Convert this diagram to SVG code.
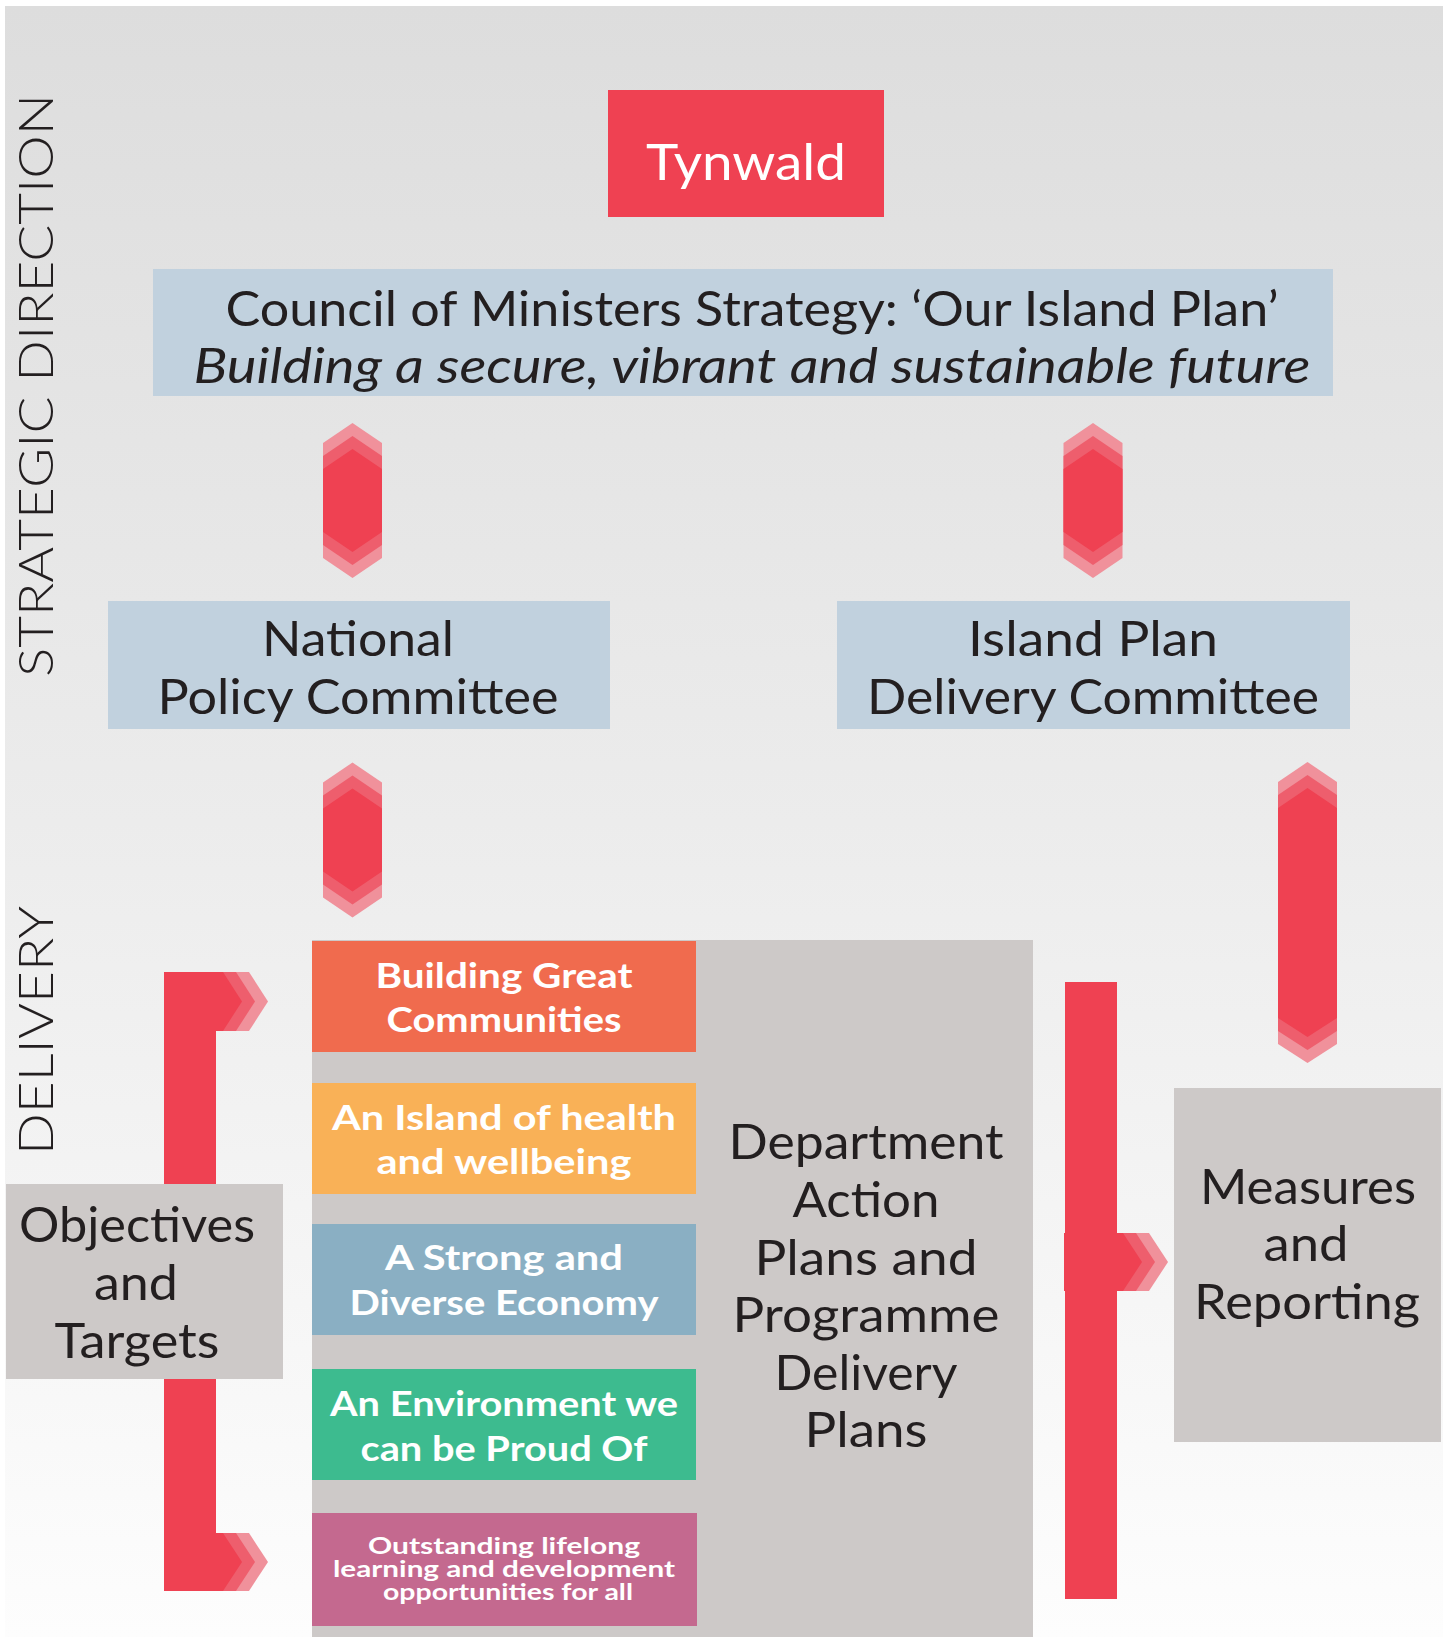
<svg xmlns="http://www.w3.org/2000/svg" width="1448" height="1637" viewBox="0 0 1448 1637">
  <defs>
    <linearGradient id="bg" x1="0" y1="0" x2="0" y2="1">
      <stop offset="0" stop-color="#dddddd"/>
      <stop offset="0.5" stop-color="#ececec"/>
      <stop offset="1" stop-color="#fdfdfd"/>
    </linearGradient>
    <!-- layered hexagon connector, centred at 0,0, half-height 77.5 -->
    <g id="hex">
      <polygon class="l1" points="-29.5,-57.5 0,-77.5 29.5,-57.5 29.5,57.5 0,77.5 -29.5,57.5"/>
      <polygon class="l2" points="-29.5,-44.5 0,-64.5 29.5,-44.5 29.5,44.5 0,64.5 -29.5,44.5"/>
      <polygon class="l3" points="-29.5,-31.5 0,-51.5 29.5,-31.5 29.5,31.5 0,51.5 -29.5,31.5"/>
    </g>
  </defs>
  <style>
    text { font-family: "Lato", "Open Sans", "Liberation Sans", sans-serif; }
    .l1 { fill: #f0919b; }
    .l2 { fill: #ee5e6d; }
    .l3 { fill: #ef4152; }
    .blue { fill: #c1d1de; }
    .grey { fill: #cdc9c8; }
    .big { font-size: 48px; fill: #231f20; text-anchor: middle; }
    .side { font-size: 47px; font-weight: 300; fill: #231f20; }
    .tag { font-size: 35px; font-weight: 700; fill: #ffffff; text-anchor: middle; }
    .small { font-size: 23px; font-weight: 700; fill: #ffffff; text-anchor: middle; }
  </style>

  <rect x="5" y="6" width="1438" height="1631" fill="url(#bg)"/>

  <!-- side labels -->
  <text class="side" transform="translate(53,677) rotate(-90)" textLength="583" lengthAdjust="spacingAndGlyphs">STRATEGIC DIRECTION</text>
  <text class="side" transform="translate(53,1155) rotate(-90)" textLength="249" lengthAdjust="spacingAndGlyphs">DELIVERY</text>

  <!-- connectors -->
  <g id="connectors">
    <use href="#hex" x="352.5" y="500.5"/>
    <use href="#hex" x="1093" y="500.5"/>
    <use href="#hex" x="352.5" y="840"/>

    <!-- tall connector to Measures and Reporting -->
    <polygon class="l1" points="1278,782 1307.5,762 1337,782 1337,1044 1307.5,1063 1278,1044"/>
    <polygon class="l2" points="1278,795 1307.5,775 1337,795 1337,1031 1307.5,1050 1278,1031"/>
    <polygon class="l3" points="1278,808 1307.5,788 1337,808 1337,1018 1307.5,1037 1278,1018"/>

    <!-- left bracket -->
    <rect class="l3" x="164" y="972" width="52" height="619"/>
    <polygon class="l1" points="164,972 249,972 268,1001.5 249,1031 164,1031"/>
    <polygon class="l2" points="164,972 236,972 255,1001.5 236,1031 164,1031"/>
    <polygon class="l3" points="164,972 223,972 242,1001.5 223,1031 164,1031"/>
    <polygon class="l1" points="164,1533 249,1533 268,1562 249,1591 164,1591"/>
    <polygon class="l2" points="164,1533 236,1533 255,1562 236,1591 164,1591"/>
    <polygon class="l3" points="164,1533 223,1533 242,1562 223,1591 164,1591"/>

    <!-- right bracket -->
    <rect class="l3" x="1065" y="982" width="52" height="617"/>
    <polygon class="l1" points="1064,1233 1149,1233 1168,1262 1149,1291 1064,1291"/>
    <polygon class="l2" points="1064,1233 1136,1233 1155,1262 1136,1291 1064,1291"/>
    <polygon class="l3" points="1064,1233 1123,1233 1142,1262 1123,1291 1064,1291"/>
  </g>

  <g id="tynwald">
    <rect x="608" y="90" width="276" height="127" fill="#ef4152"/>
    <text x="746" y="180" font-size="50" fill="#ffffff" text-anchor="middle" textLength="200" lengthAdjust="spacingAndGlyphs">Tynwald</text>
  </g>

  <g id="council">
    <rect class="blue" x="153" y="269" width="1180" height="127"/>
    <text class="big" x="752" y="326" textLength="1053" lengthAdjust="spacingAndGlyphs">Council of Ministers Strategy: ‘Our Island Plan’</text>
    <text class="big" x="752" y="383" font-style="italic" textLength="1117" lengthAdjust="spacingAndGlyphs">Building a secure, vibrant and sustainable future</text>
  </g>

  <g id="national-policy">
    <rect class="blue" x="108" y="601" width="502" height="128"/>
    <text class="big" x="358" y="656" textLength="192" lengthAdjust="spacingAndGlyphs">National</text>
    <text class="big" x="358" y="714" textLength="401" lengthAdjust="spacingAndGlyphs">Policy Committee</text>
  </g>

  <g id="delivery-committee">
    <rect class="blue" x="837" y="601" width="513" height="128"/>
    <text class="big" x="1093" y="656" textLength="250" lengthAdjust="spacingAndGlyphs">Island Plan</text>
    <text class="big" x="1093" y="714" textLength="452" lengthAdjust="spacingAndGlyphs">Delivery Committee</text>
  </g>

  <g id="department-plans">
    <rect class="grey" x="312" y="940" width="721" height="697"/>
    <text class="big" x="866" y="1159" textLength="275" lengthAdjust="spacingAndGlyphs">Department</text>
    <text class="big" x="866" y="1217" textLength="147" lengthAdjust="spacingAndGlyphs">Action</text>
    <text class="big" x="866" y="1275" textLength="223" lengthAdjust="spacingAndGlyphs">Plans and</text>
    <text class="big" x="866" y="1332" textLength="267" lengthAdjust="spacingAndGlyphs">Programme</text>
    <text class="big" x="866" y="1390" textLength="183" lengthAdjust="spacingAndGlyphs">Delivery</text>
    <text class="big" x="866" y="1447" textLength="123" lengthAdjust="spacingAndGlyphs">Plans</text>
  </g>

  <g id="communities">
    <rect x="312" y="941" width="384" height="111" fill="#f06b4e"/>
    <text class="tag" x="504" y="988" textLength="257" lengthAdjust="spacingAndGlyphs">Building Great</text>
    <text class="tag" x="504" y="1032" textLength="235" lengthAdjust="spacingAndGlyphs">Communities</text>
  </g>

  <g id="health">
    <rect x="312" y="1083" width="384" height="111" fill="#f9b157"/>
    <text class="tag" x="504" y="1130" textLength="344" lengthAdjust="spacingAndGlyphs">An Island of health</text>
    <text class="tag" x="504" y="1174" textLength="255" lengthAdjust="spacingAndGlyphs">and wellbeing</text>
  </g>

  <g id="economy">
    <rect x="312" y="1224" width="384" height="111" fill="#8aafc3"/>
    <text class="tag" x="504" y="1270" textLength="238" lengthAdjust="spacingAndGlyphs">A Strong and</text>
    <text class="tag" x="504" y="1315" textLength="309" lengthAdjust="spacingAndGlyphs">Diverse Economy</text>
  </g>

  <g id="environment">
    <rect x="312" y="1369" width="384" height="111" fill="#3dbb8f"/>
    <text class="tag" x="504" y="1416" textLength="348" lengthAdjust="spacingAndGlyphs">An Environment we</text>
    <text class="tag" x="504" y="1461" textLength="287" lengthAdjust="spacingAndGlyphs">can be Proud Of</text>
  </g>

  <g id="learning">
    <rect x="312" y="1513" width="385" height="113" fill="#c4698f"/>
    <text class="small" x="504" y="1554" textLength="272" lengthAdjust="spacingAndGlyphs">Outstanding lifelong</text>
    <text class="small" x="504" y="1577" textLength="342" lengthAdjust="spacingAndGlyphs">learning and development</text>
    <text class="small" x="508" y="1600" textLength="250" lengthAdjust="spacingAndGlyphs">opportunities for all</text>
  </g>

  <g id="objectives">
    <rect class="grey" x="6" y="1184" width="277" height="195"/>
    <text class="big" x="137" y="1242" textLength="236" lengthAdjust="spacingAndGlyphs">Objectives</text>
    <text class="big" x="136" y="1300" textLength="84" lengthAdjust="spacingAndGlyphs">and</text>
    <text class="big" x="137" y="1358" textLength="165" lengthAdjust="spacingAndGlyphs">Targets</text>
  </g>

  <g id="measures">
    <rect class="grey" x="1174" y="1088" width="267" height="354"/>
    <text class="big" x="1308" y="1204" textLength="216" lengthAdjust="spacingAndGlyphs">Measures</text>
    <text class="big" x="1306" y="1261" textLength="85" lengthAdjust="spacingAndGlyphs">and</text>
    <text class="big" x="1307" y="1319" textLength="226" lengthAdjust="spacingAndGlyphs">Reporting</text>
  </g>
</svg>
